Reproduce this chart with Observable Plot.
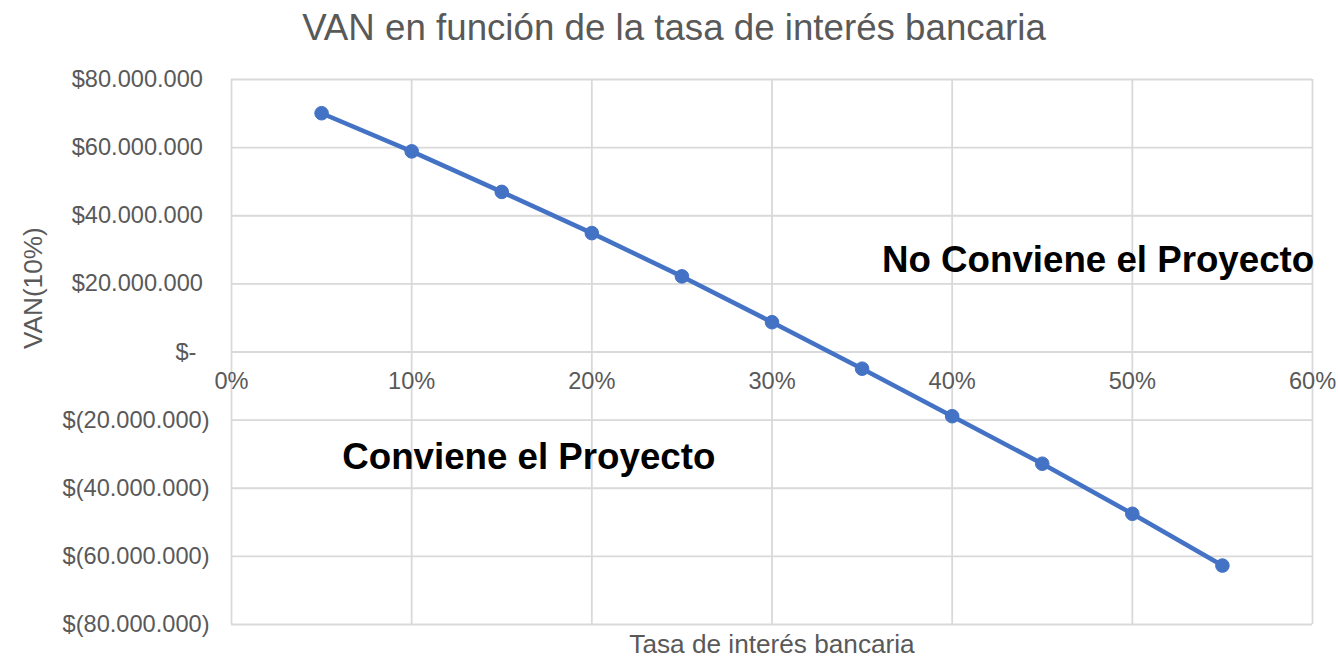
<!DOCTYPE html>
<html>
<head>
<meta charset="utf-8">
<script src="https://cdn.jsdelivr.net/npm/d3@7"></script>
<script src="https://cdn.jsdelivr.net/npm/@observablehq/plot@0.6"></script>
<style>
  html, body { margin: 0; padding: 0; background: #fff; }
  #wrap { width: 1338px; height: 660px; position: relative; overflow: hidden; }
  #title { height: 56px; line-height: 56px; text-align: center; padding-left: 10px; box-sizing: border-box;
           font-family: "Liberation Sans", Arial, sans-serif; font-size: 36.7px; color: #595959; white-space: nowrap; }
</style>
</head>
<body>
<div id="wrap">
  <div id="title">VAN en función de la tasa de interés bancaria</div>
  <div id="chart"></div>
</div>
<script>
// Data
const rates = [5, 10, 15, 20, 25, 30, 35, 40, 45, 50, 55];          // % tasa de interés
const van = [70.1e6, 58.9e6, 47.0e6, 34.9e6, 22.2e6, 8.75e6, -4.9e6, -18.85e6, -32.8e6, -47.5e6, -62.7e6];
const xTicks = [0, 10, 20, 30, 40, 50, 60];
const yTicks = [-80e6, -60e6, -40e6, -20e6, 0, 20e6, 40e6, 60e6, 80e6];
const annotationLabels = ["Conviene el Proyecto", "No Conviene el Proyecto"];
const annotationX = [16.5, 48.1];
const annotationY = [-31.0e6, 27.0e6];
const xTitle = "Tasa de interés bancaria";
const yTitle = "VAN(10%)";

const points = rates.map((r, i) => ({rate: r, van: van[i]}));
const notes = annotationLabels.map((t, i) => ({text: t, x: annotationX[i], y: annotationY[i]}));

function money(v) {
  if (v === 0) return "$-\u00a0\u00a0";
  const s = d3.format(",.0f")(Math.abs(v)).replace(/,/g, ".");
  return v < 0 ? `$(${s})` : `$${s}\u00a0`;
}

const font = "'Liberation Sans', Arial, sans-serif";
const chart = Plot.plot({
  width: 1338,
  height: 604,
  marginTop: 23,
  marginBottom: 36,
  marginLeft: 231,
  marginRight: 26,
  style: {fontFamily: font, color: "#595959", background: "transparent", overflow: "visible"},
  x: {domain: [0, 60], axis: null},
  y: {domain: [-80e6, 80e6], axis: null},
  marks: [
    Plot.gridX(xTicks, {stroke: "#d9d9d9", strokeOpacity: 1, strokeWidth: 1.8}),
    Plot.gridY(yTicks, {stroke: "#d9d9d9", strokeOpacity: 1, strokeWidth: 1.8}),
    Plot.axisY(yTicks, {anchor: "left", tickSize: 0, tickPadding: 22, tickFormat: money,
                        fontSize: 23.6, fill: "#595959", label: null}),
    Plot.text(xTicks, {x: d => d, y: () => 0, text: d => `${d}%`, dy: 29,
                       fontSize: 23.6, fill: "#595959", lineAnchor: "middle"}),
    Plot.line(points, {x: "rate", y: "van", stroke: "#4472C4", strokeWidth: 4.5}),
    Plot.dot(points, {x: "rate", y: "van", r: 6.8, fill: "#4472C4", stroke: "#4472C4", strokeWidth: 1}),
    Plot.text(notes, {x: "x", y: "y", text: "text", fontSize: 36.7, fontWeight: "bold",
                      fill: "#000", lineAnchor: "middle"}),
    Plot.text([xTitle], {frameAnchor: "bottom", dy: 20, fontSize: 26.2, fill: "#595959", lineAnchor: "middle"}),
    Plot.text([yTitle], {frameAnchor: "left", dx: -198, dy: -3, rotate: -90, fontSize: 26.2,
                         fill: "#595959", lineAnchor: "middle"})
  ]
});
document.getElementById("chart").appendChild(chart);
</script>
</body>
</html>
